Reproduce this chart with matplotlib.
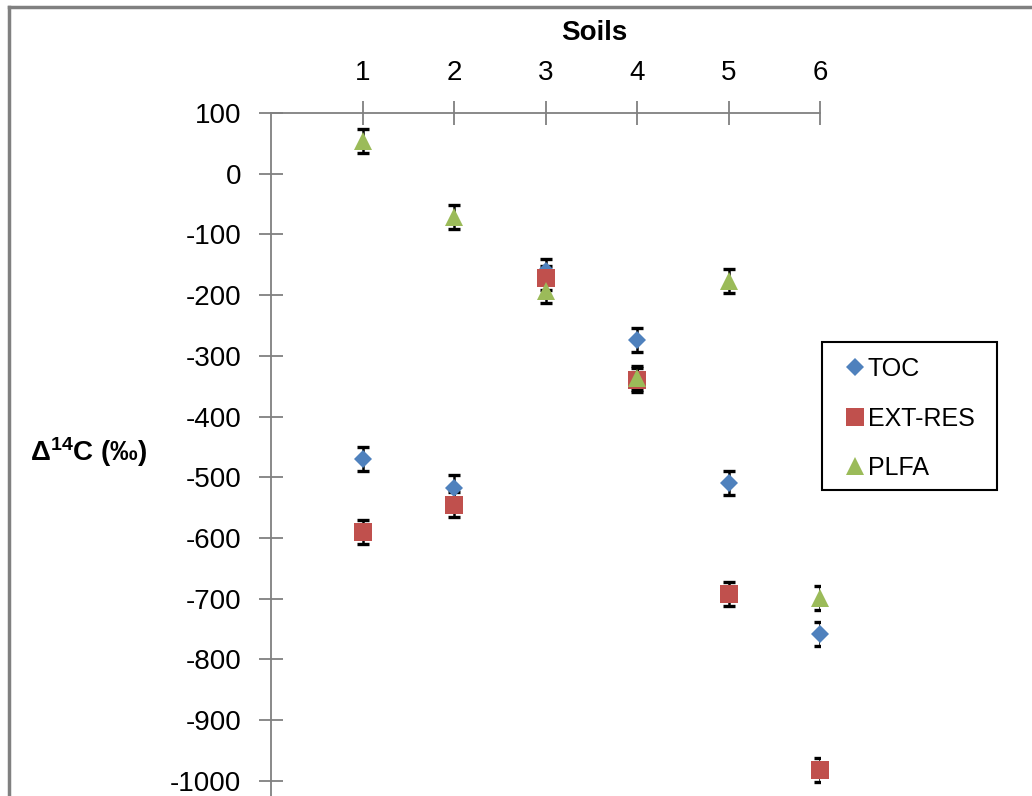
import numpy as np
from matplotlib import pyplot as plt
from matplotlib.lines import Line2D
from matplotlib.patches import Rectangle

# Data
soils = [1, 2, 3, 4, 5, 6]
toc = [-470, -517, -160, -274, -510, -758]
ext_res = [-590, -545, -172, -340, -692, -982]
plfa = [54, -71, -193, -337, -177, -699]
toc_err = [20, 20, 20, 20, 20, 20]
ext_res_err = [20, 20, 20, 20, 20, 20]
plfa_err = [20, 20, 20, 20, 20, 20]

plt.rcParams['font.family'] = ['Liberation Sans', 'DejaVu Sans']
plt.rcParams['mathtext.default'] = 'regular'
plt.rcParams['axes.unicode_minus'] = False

W, H = 1032, 796
fig = plt.figure(figsize=(W / 100, H / 100), dpi=100)

# axes placed in pixel terms
x0, x1 = 271, 820
y_top = 113
ax = fig.add_axes([x0 / W, 0, (x1 - x0) / W, 1 - y_top / H])
ax.set_xlim(0, 6)
ax.set_ylim(-1025, 100)

series = [
    ("TOC", toc, toc_err, 'D', '#4F81BD', 9),
    ("EXT-RES", ext_res, ext_res_err, 's', '#C0504D', 13),
    ("PLFA", plfa, plfa_err, '^', '#9BBB59', 13),
]
for name, vals, err, mk, col, ms in series:
    ax.errorbar(soils, vals, yerr=err, fmt='none', ecolor='black',
                elinewidth=1.8, capsize=4.2, capthick=2.4, zorder=2)
    ax.plot(soils, vals, linestyle='none', marker=mk, markersize=ms,
            color=col, markeredgewidth=0, label=name, zorder=3, clip_on=False)

# spines: left and top only
for s in ['right', 'bottom']:
    ax.spines[s].set_visible(False)
for s in ['left', 'top']:
    ax.spines[s].set_color('#808080')
    ax.spines[s].set_linewidth(1.3)

ax.xaxis.set_ticks_position('top')
ax.set_xticks(soils)
ax.set_yticks(np.arange(-1000, 101, 100))
ax.tick_params(axis='both', direction='inout', length=17, width=1.3,
               color='#808080', labelsize=20)
ax.tick_params(axis='y', pad=13)
ax.tick_params(axis='x', pad=11)
ax.patch.set_alpha(0)

fig.text(594 / W, 1 - 33 / H, "Soils", fontsize=20, fontweight='bold',
         ha='center', va='center')
fig.text(30 / W, 1 - 452 / H, "Δ$^{14}$C (‰)", fontsize=20,
         fontweight='bold', va='center', ha='left')

# legend: entries without frame, plus a plain black box around them
handles = [Line2D([], [], linestyle='none', marker=mk, color=col,
                  markersize=ms, markeredgewidth=0)
           for name, vals, err, mk, col, ms in series]
leg = ax.legend(handles, [s[0] for s in series], loc='upper left',
                bbox_to_anchor=(846 / W, 1 - 357 / H),
                bbox_transform=fig.transFigure, fontsize=18,
                frameon=False, handlelength=0.68, handletextpad=0.18,
                labelspacing=1.02, borderpad=0, borderaxespad=0)
leg.set_zorder(5)
fig.add_artist(Rectangle((822 / W, 1 - 490 / H), (997 - 822) / W, (490 - 342) / H,
                         transform=fig.transFigure, facecolor='none',
                         edgecolor='black', linewidth=1.5, zorder=4))

# outer gray chart border (top and left)
fig.add_artist(Line2D([9 / W, 9 / W], [0, 1 - 7 / H], transform=fig.transFigure,
                      color='#808080', linewidth=2.5))
fig.add_artist(Line2D([9 / W, 1], [1 - 7 / H, 1 - 7 / H], transform=fig.transFigure,
                      color='#808080', linewidth=2.5))

plt.savefig("out.png", dpi=100)
plt.close()
